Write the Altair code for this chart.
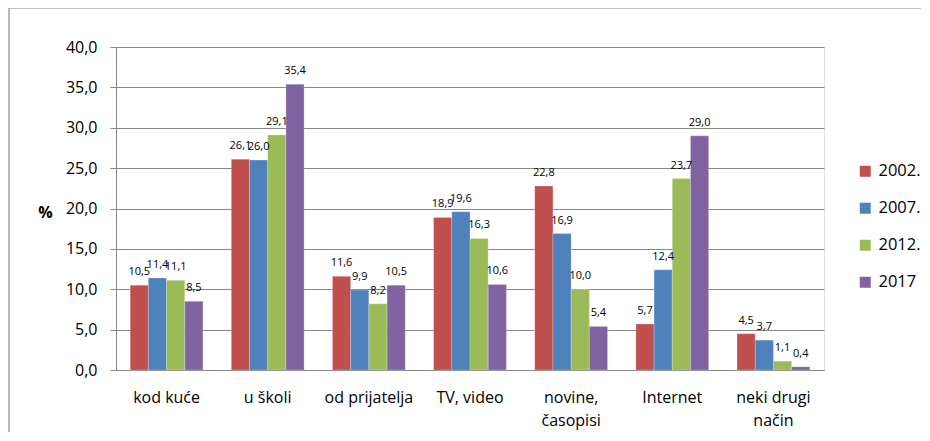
import altair as alt
import pandas as pd

categories = ["kod kuće", "u školi", "od prijatelja", "TV, video",
              "novine, časopisi", "Internet", "neki drugi način"]
cat_lines = [["kod kuće"], ["u školi"], ["od prijatelja"], ["TV, video"],
             ["novine,", "časopisi"], ["Internet"], ["neki drugi", "način"]]
series = ["2002.", "2007.", "2012.", "2017"]
colors = ["#C0504D", "#4F81BD", "#9BBB59", "#8064A2"]
v2002 = [10.5, 26.1, 11.6, 18.9, 22.8, 5.7, 4.5]
v2007 = [11.4, 26.0, 9.9, 19.6, 16.9, 12.4, 3.7]
v2012 = [11.1, 29.1, 8.2, 16.3, 10.0, 23.7, 1.1]
v2017 = [8.5, 35.4, 10.5, 10.6, 5.4, 29.0, 0.4]
y_ticks = [0, 5, 10, 15, 20, 25, 30, 35, 40]

rows = []
for s, vals in zip(series, [v2002, v2007, v2012, v2017]):
    for c, v in zip(categories, vals):
        rows.append({"cat": c, "year": s, "value": v})
df = pd.DataFrame(rows)

label_expr = ""
for c, lines in zip(categories, cat_lines):
    if len(lines) > 1:
        arr = "[" + ",".join("'" + l + "'" for l in lines) + "]"
        label_expr += f"datum.label == '{c}' ? {arr} : "
label_expr += "datum.label"

FONT = "Open Sans"
GRID = "#878787"

x_enc = alt.X("cat:N", sort=categories,
              scale=alt.Scale(paddingInner=0.28, paddingOuter=0.14),
              axis=alt.Axis(title=None, labelAngle=0, ticks=False,
                            labelExpr=label_expr, labelFontSize=16,
                            labelPadding=19, labelLineHeight=23,
                            labelColor="#000", domainColor=GRID,
                            labelFont=FONT))
xo_enc = alt.XOffset("year:N", sort=series,
                     scale=alt.Scale(paddingInner=0, paddingOuter=0))

bars = alt.Chart(df).mark_bar(stroke="white", strokeWidth=0.4, strokeOpacity=0.6).encode(
    x=x_enc,
    xOffset=xo_enc,
    y=alt.Y("value:Q", scale=alt.Scale(domain=[0, 40], nice=False),
            axis=alt.Axis(values=y_ticks, title="%", titleAngle=0,
                          titleFontWeight="bold", titleFontSize=16,
                          titleFont=FONT, titleX=-71, titleY=165,
                          titleAlign="center", titleBaseline="middle",
                          labelExpr="replace(format(datum.value, '.1f'), '.', ',')",
                          labelFontSize=16, labelFont=FONT, labelColor="#000",
                          labelPadding=13, tickSize=6, tickColor=GRID,
                          domainColor=GRID, gridColor=GRID, gridWidth=1.2)),
    color=alt.Color("year:N", sort=series,
                    scale=alt.Scale(domain=series, range=colors),
                    legend=alt.Legend(title=None, orient="none",
                                      legendX=741, legendY=116,
                                      symbolType="square", symbolSize=121,
                                      symbolStrokeWidth=0,
                                      labelFontSize=16.5, labelFont=FONT,
                                      labelColor="#000", rowPadding=20,
                                      labelOffset=5)),
)

labels = alt.Chart(df).transform_calculate(
    txt="replace(format(datum.value, '.1f'), '.', ',')"
).mark_text(baseline="bottom", dy=-8, fontSize=11, font=FONT, color="#000").encode(
    x=alt.X("cat:N", sort=categories),
    xOffset=alt.XOffset("year:N", sort=series),
    y="value:Q",
    text="txt:N",
)

border_left = alt.Chart(pd.DataFrame({"a": [0]})).mark_rule(color="#8a8a8a", strokeWidth=1.2).encode(
    x=alt.value(-107), y=alt.value(-39), y2=alt.value(420))
border_top = alt.Chart(pd.DataFrame({"a": [0]})).mark_rule(color="#8a8a8a", strokeWidth=1.2).encode(
    x=alt.value(-107), x2=alt.value(806), y=alt.value(-39))

chart = alt.layer(bars, labels, border_left, border_top).properties(
    width=708, height=323,
    autosize=alt.AutoSizeParams(type="none"),
    padding={"left": 108, "top": 39, "right": 97, "bottom": 62},
).configure_view(stroke=None).configure(background="white")

chart.save("out.html", embed_options={"renderer": "svg", "actions": False})
